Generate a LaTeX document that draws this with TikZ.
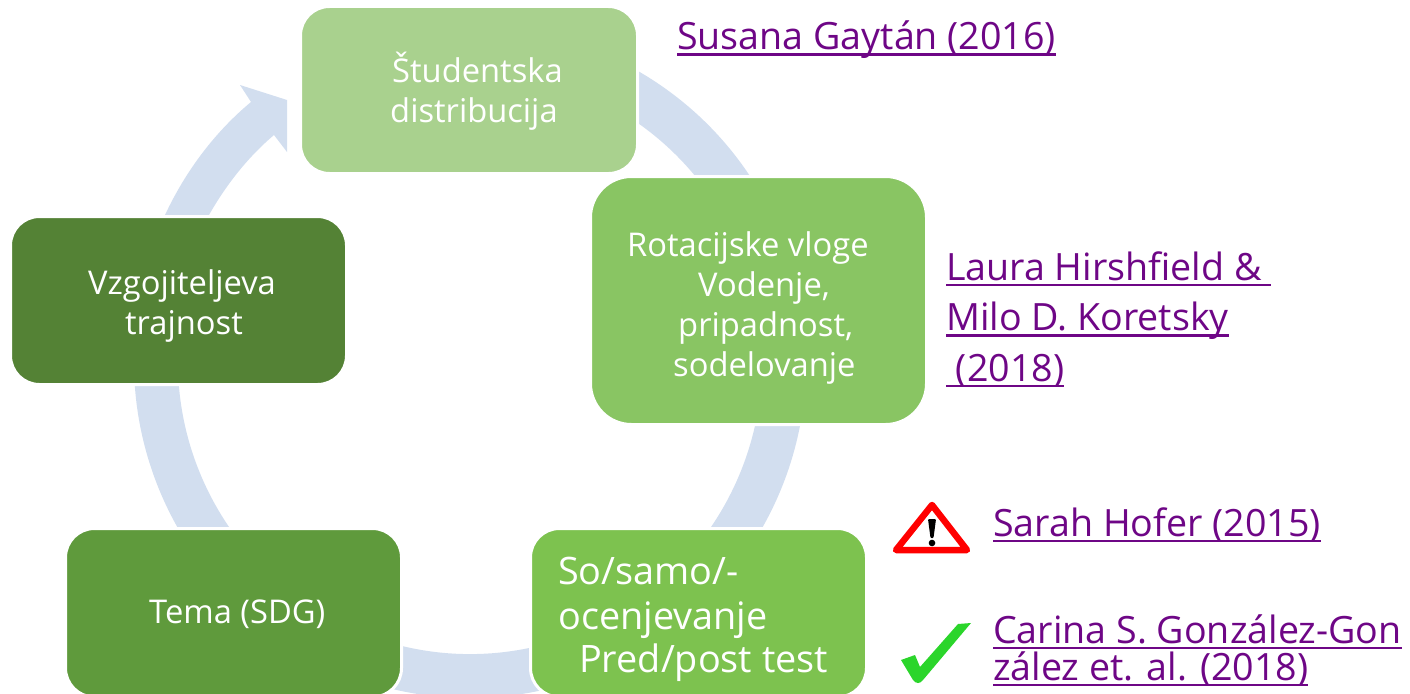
\documentclass[tikz,border=0pt]{standalone}
\usepackage{fontspec}
\usetikzlibrary{calc}
\setmainfont{Open Sans}
\definecolor{ringc}{HTML}{D2DEEF}
\definecolor{linkc}{HTML}{6E0686}
\definecolor{boxa}{RGB}{169,209,142}
\definecolor{boxb}{RGB}{137,197,99}
\definecolor{boxc}{RGB}{125,194,79}
\definecolor{boxd}{RGB}{95,154,60}
\definecolor{boxe}{RGB}{84,130,53}
\definecolor{checkc}{RGB}{43,213,43}
\newcommand\lnk[1]{\setbox0\hbox{#1}\rlap{\vrule width\wd0 height -3.4pt depth 5.8pt}\box0}
\tikzset{
  x=1pt,y=-1pt,
  box/.style={draw=white,line width=3pt,rounded corners=29pt},
  boxtext/.style={text=white,font=\fontsize{32.7}{40}\selectfont,align=left,anchor=north west,inner sep=0pt},
  linktext/.style={text=linkc,font=\fontsize{37.6}{50.5}\selectfont,align=left,anchor=west,inner sep=0pt},
}
\begin{document}
\begin{tikzpicture}
\useasboundingbox (0,0) rectangle (1410,693);
\clip (0,0) rectangle (1410,693);
% ring
\coordinate (ringc) at (470,362);
\fill[ringc] ($(ringc)+(60:336pt)$) arc[start angle=60,end angle=-200,radius=336pt]
   -- ($(ringc)+(-200:292pt)$) arc[start angle=-200,end angle=60,radius=292pt] -- cycle;
\fill[ringc] (240,85) -- (287,100) -- (287,152) -- (274,135)
   .. controls (248,157) and (226,185) .. (209,215) -- (165,215)
   .. controls (186,170) and (216,131) .. (251,102) -- cycle;
% boxes
\path[box,fill=boxa] (300.5,6.5) rectangle (637.5,173.5);
\path[box,fill=boxb,rounded corners=41pt] (590.5,176.5) rectangle (926.5,424.5);
\path[box,fill=boxc] (530.5,528.5) rectangle (866.5,697);
\path[box,fill=boxd] (65.5,528.5) rectangle (401.5,697);
\path[box,fill=boxe] (10.5,216.5) rectangle (346.5,384.5);
% box labels
\node[boxtext] (t1) at (390,52) {\hspace*{2pt}Študentska\\distribucija};
\node[boxtext] (t2) at (627,231) {Rotacijske vloge\\\hspace*{71pt}Vodenje,\\\hspace*{51pt}pripadnost,\\\hspace*{46pt}sodelovanje};
\node[boxtext] (t3) at (88,269) {Vzgojiteljeva\\\hspace*{37pt}trajnost};
\node[boxtext] (t4) at (149,600) {Tema (SDG)};
\node[boxtext,font=\fontsize{37.8}{43}\selectfont] (t5) at (558,557) {So/samo/-\\[1.5pt]ocenjevanje\\\hspace*{21pt}Pred/post test};
% links
\node[linktext] (l1) at (677,40) {\lnk{Susana Gaytán (2016)}};
\node[linktext] (l2) at (946,319.5) {\lnk{Laura Hirshfield \&\ }\\\lnk{Milo D. Koretsky}\\\lnk{\ (2018)}};
\node[linktext] (l3) at (993,525) {\lnk{Sarah Hofer (2015)}};
\node[linktext,font=\fontsize{37.6}{36.5}\selectfont] (l4) at (993,650.5) {\lnk{Carina S. González-Gon}\\\lnk{zález et. al. (2018)}};
% icons
\path[draw=red,fill=white,line width=6.5pt,line join=round] (932,505) -- (967,550) -- (896,550) -- cycle;
\fill[black,rounded corners=1pt] (928,519) -- (936,519) -- (933.5,538) -- (930.5,538) -- cycle;
\fill[black] (932,543) circle (3.3pt);
\fill[checkc] (901,660) -- (915,655) -- (920,667) -- (958,624) -- (971,623) -- (923,680) .. controls (920,684) and (916,684) .. (913,680) -- cycle;
\end{tikzpicture}
\end{document}
